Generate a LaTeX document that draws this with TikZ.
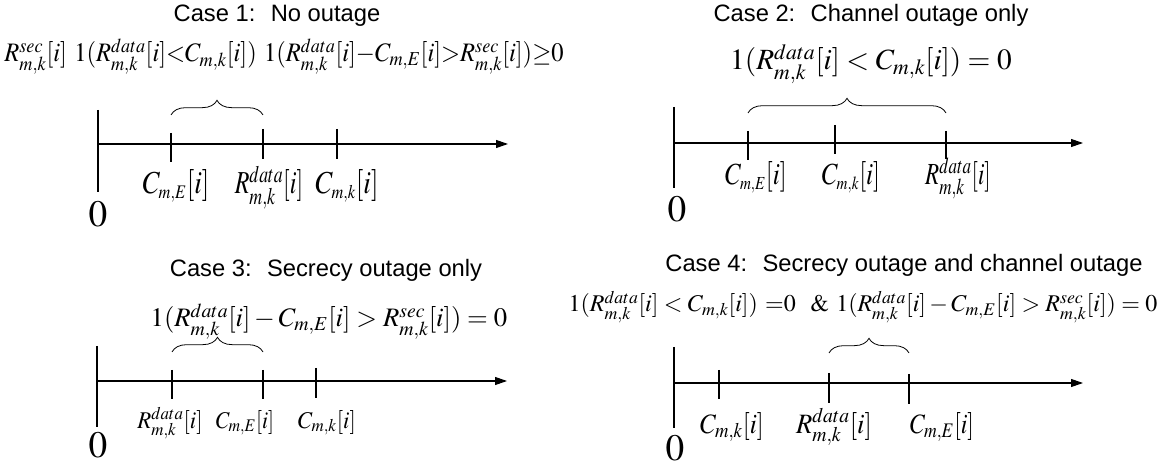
\documentclass[tikz,border=0pt]{standalone}
\usepackage{mathptmx}
\usepackage[no-math]{fontspec}
\setsansfont{Liberation Sans}
\usetikzlibrary{arrows.meta, decorations.pathreplacing}
\newcommand{\hsq}[2]{\scalebox{#1}[1]{#2}}
\newcommand{\tsub}[1]{{\scriptscriptstyle #1}}

\begin{document}
\begin{tikzpicture}[x=0.75pt, y=-0.75pt,
    axis/.style={line width=0.8pt, -{Triangle[length=9pt, width=6pt]}},
    vline/.style={line width=0.8pt},
    tick/.style={line width=0.8pt},
    brc/.style={decorate, decoration={brace, amplitude=11pt}, line width=0.6pt},
    ttl/.style={font=\sffamily\fontsize{17.8pt}{21pt}\selectfont, anchor=base, inner sep=0pt},
    eqn/.style={anchor=base, inner sep=0pt},
    lbl/.style={anchor=base, inner sep=0pt},
    zero/.style={font=\fontsize{28pt}{32pt}\selectfont, anchor=base, inner sep=0pt}
  ]
  \useasboundingbox (0,0) rectangle (1174,466);

  % Case 1
  \node[ttl] (t1) at (277,22) {Case 1:~ No outage};
  \node[eqn, font=\fontsize{20pt}{24pt}\selectfont] (f1) at (284,62)
    {\hsq{0.92}{$R^{sec}_{m,k}[i]\ 1(R^{data}_{m,k}[i]{<}C_{m,k}[i])\ 1(R^{data}_{m,k}[i]{-}C_{m,E}[i]{>}R^{sec}_{m,k}[i]){\geq}0$}};
  \coordinate (v1t) at (98,110);
  \coordinate (v1b) at (98,192);
  \coordinate (o1) at (98,144);
  \coordinate (e1) at (508,144);
  \draw[vline] (v1t) -- (v1b);
  \draw[axis] (o1) -- (e1);
  \foreach \x/\a/\b in {171/133/162, 263/129/159, 337/129/159}
    \draw[tick] (\x,\a) -- (\x,\b);
  \draw[brc] (171,115) -- (263,115);
  \begin{scope}[font=\fontsize{24pt}{28pt}\selectfont]
    \node[lbl] (c1e) at (176,194) {\hsq{0.85}{$C_{\tsub{m,E}}[i]$}};
    \node[lbl] (r1) at (269,194) {\hsq{0.75}{$R^{data}_{m,k}[i]$}};
    \node[lbl] (c1k) at (347,194) {\hsq{0.85}{$C_{\tsub{m,k}}[i]$}};
  \end{scope}
  \node[zero] (z1) at (98,227) {$0$};

  % Case 2
  \node[ttl] (t2) at (871,22) {Case 2:~ Channel outage only};
  \node[eqn, font=\fontsize{22pt}{26pt}\selectfont] (f2) at (871,70)
    {$1(R^{data}_{m,k}[i] < C_{m,k}[i]) = 0$};
  \coordinate (v2t) at (674,107);
  \coordinate (v2b) at (674,188);
  \coordinate (o2) at (674,143);
  \coordinate (e2) at (1083,143);
  \draw[vline] (v2t) -- (v2b);
  \draw[axis] (o2) -- (e2);
  \foreach \x/\a/\b in {748/131/160, 835/125/154, 946/131/159}
    \draw[tick] (\x,\a) -- (\x,\b);
  \draw[brc] (748,113) -- (946,113);
  \begin{scope}[font=\fontsize{23pt}{27pt}\selectfont]
    \node[lbl] (c2e) at (756,185) {\hsq{0.82}{$C_{\tsub{m,E}}[i]$}};
    \node[lbl] (c2k) at (851,185) {\hsq{0.82}{$C_{\tsub{m,k}}[i]$}};
    \node[lbl] (r2) at (958,185) {\hsq{0.75}{$R^{data}_{m,k}[i]$}};
  \end{scope}
  \node[zero] (z2) at (677,222) {$0$};

  % Case 3
  \node[ttl] (t3) at (326,277) {Case 3:~ Secrecy outage only};
  \node[eqn, font=\fontsize{20pt}{24pt}\selectfont] (f3) at (329,327)
    {$1(R^{data}_{m,k}[i] - C_{m,E}[i] > R^{sec}_{m,k}[i]) = 0$};
  \coordinate (v3t) at (97,346);
  \coordinate (v3b) at (97,427);
  \coordinate (o3) at (97,381);
  \coordinate (e3) at (507,381);
  \draw[vline] (v3t) -- (v3b);
  \draw[axis] (o3) -- (e3);
  \foreach \x/\a/\b in {172/370/399, 263/370/399, 316/368/398}
    \draw[tick] (\x,\a) -- (\x,\b);
  \draw[brc] (172,352) -- (263,352);
  \begin{scope}[font=\fontsize{18pt}{22pt}\selectfont]
    \node[lbl] (r3) at (170,428) {\hsq{0.95}{$R^{data}_{m,k}[i]$}};
    \node[lbl] (c3e) at (245,428) {\hsq{0.9}{$C_{m,E}[i]$}};
    \node[lbl] (c3k) at (327,428) {\hsq{0.95}{$C_{m,k}[i]$}};
  \end{scope}
  \node[zero] (z3) at (98,457) {$0$};

  % Case 4
  \node[ttl] (t4) at (904,272) {Case 4:~ Secrecy outage and channel outage};
  \node[eqn, font=\fontsize{18pt}{22pt}\selectfont] (f4) at (863,312)
    {$1(R^{data}_{m,k}[i] < C_{m,k}[i])\ {=}0\ \ \&\ 1(R^{data}_{m,k}[i] - C_{m,E}[i] > R^{sec}_{m,k}[i]) = 0$};
  \coordinate (v4t) at (674,347);
  \coordinate (v4b) at (674,428);
  \coordinate (o4) at (674,383);
  \coordinate (e4) at (1083,383);
  \draw[vline] (v4t) -- (v4b);
  \draw[axis] (o4) -- (e4);
  \foreach \x/\a/\b in {719/370/399, 829/373/403, 909/374/404}
    \draw[tick] (\x,\a) -- (\x,\b);
  \draw[brc] (829,353) -- (909,353);
  \begin{scope}[font=\fontsize{21pt}{25pt}\selectfont]
    \node[lbl] (c4k) at (732,433) {\hsq{0.9}{$C_{m,k}[i]$}};
    \node[lbl] (r4) at (834,433) {\hsq{0.95}{$R^{data}_{m,k}[i]$}};
    \node[lbl] (c4e) at (942,433) {\hsq{0.85}{$C_{m,E}[i]$}};
  \end{scope}
  \node[zero] (z4) at (675,460) {$0$};
\end{tikzpicture}
\end{document}
